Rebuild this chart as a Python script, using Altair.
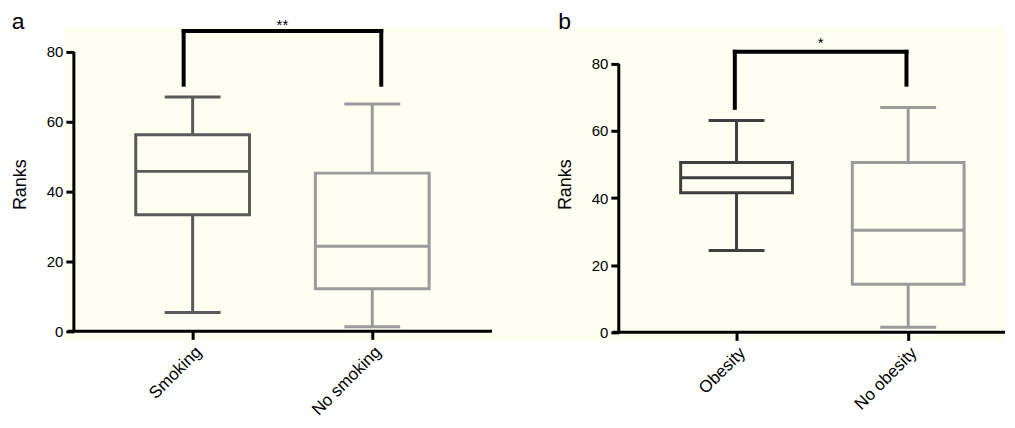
import altair as alt
import pandas as pd

# ---- data ----
cats_a = ["Smoking", "No smoking"]
min_a = [5.4, 1.3]
q1_a = [33.4, 12.2]
med_a = [45.8, 24.4]
q3_a = [56.3, 45.3]
max_a = [67.1, 65.1]
colors_a = ["#5a5a5a", "#9a9a9a"]
brk_x_a = [0.95, 2.05]
brk_top_a = 86.0
brk_low_a = [70.6, 70.6]
star_a = "**"
star_y_a = 88.9

cats_b = ["Obesity", "No obesity"]
min_b = [24.4, 1.5]
q1_b = [41.6, 14.3]
med_b = [46.1, 30.4]
q3_b = [50.6, 50.6]
max_b = [63.1, 67.0]
colors_b = ["#3f3f3f", "#9a9a9a"]
brk_x_b = [0.99, 1.99]
brk_top_b = 83.6
brk_low_b = [66.9, 73.8]
star_b = "*"
star_y_b = 87.4

ticks = [0, 20, 40, 60, 80]
BG = "#FEFEF1"
FONT = "Liberation Sans"
LETTER_X = {"a": -52.3, "b": 66.3}


def panel(letter, cats, mins, q1, med, q3, maxs, colors, brk_x, brk_top, brk_low,
          star, star_y, width, height, xdom, ydom, yoff, xoff, xline_start,
          box_half, cap_half, title_pad):
    df = pd.DataFrame({
        "pos": [1, 2], "cat": cats, "min": mins, "q1": q1, "med": med,
        "q3": q3, "max": maxs, "col": colors,
    })
    base = alt.Chart(df)
    label_expr = "['" + "','".join(cats) + "'][datum.value-1]"
    x = alt.X("pos:Q", scale=alt.Scale(domain=xdom, nice=False, zero=False),
              axis=alt.Axis(values=[1, 2], labelExpr=label_expr, labelAngle=-45,
                            offset=xoff, domain=False, tickSize=8, tickWidth=3,
                            tickColor="black", grid=False, title=None,
                            labelFontSize=17, labelColor="black", labelFont=FONT,
                            labelPadding=4))
    y = alt.Y("min:Q", scale=alt.Scale(domain=ydom, nice=False, zero=False),
              axis=alt.Axis(values=ticks, offset=yoff, domain=False, tickSize=8,
                            tickWidth=3, tickColor="black", grid=False,
                            title="Ranks", titleFontSize=18, titleFontWeight="normal",
                            titleFont=FONT, titleColor="black", titlePadding=title_pad,
                            labelFontSize=15, labelColor="black", labelFont=FONT,
                            labelPadding=3))
    color = alt.Color("col:N", scale=None)
    whisk = base.mark_rule(strokeWidth=3).encode(x=x, y=y, y2="max:Q", color=color)
    cap_lo = base.mark_rule(strokeWidth=3, xOffset=-cap_half, x2Offset=cap_half).encode(
        x="pos:Q", x2="pos:Q", y="min:Q", color=color)
    cap_hi = base.mark_rule(strokeWidth=3, xOffset=-cap_half, x2Offset=cap_half).encode(
        x="pos:Q", x2="pos:Q", y="max:Q", color=color)
    box = base.mark_rect(strokeWidth=3, fill=BG, xOffset=-box_half, x2Offset=box_half).encode(
        x="pos:Q", x2="pos:Q", y="q1:Q", y2="q3:Q", stroke=color)
    median = base.mark_rule(strokeWidth=3, xOffset=-box_half, x2Offset=box_half).encode(
        x="pos:Q", x2="pos:Q", y="med:Q", color=color)

    one = alt.Chart(pd.DataFrame({"v": [0]}))
    yline = one.mark_rule(strokeWidth=3, color="black").encode(
        x=alt.value(-yoff), y=alt.datum(ticks[0]), y2=alt.datum(ticks[-1]))
    xline = one.mark_rule(strokeWidth=3, color="black").encode(
        x=alt.value(xline_start), x2=alt.value(width), y=alt.datum(0))

    bdf = pd.DataFrame({"x1": [brk_x[0], brk_x[0], brk_x[1]],
                        "x2": [brk_x[1], brk_x[0], brk_x[1]],
                        "y1": [brk_top, brk_top, brk_top],
                        "y2": [brk_top, brk_low[0], brk_low[1]]})
    bracket = alt.Chart(bdf).mark_rule(strokeWidth=4, color="black", strokeCap="square").encode(
        x="x1:Q", x2="x2:Q", y="y1:Q", y2="y2:Q")
    sdf = pd.DataFrame({"x": [sum(brk_x) / 2], "y": [star_y], "t": [star]})
    stars = alt.Chart(sdf).mark_text(fontSize=15, font=FONT, baseline="middle", dy=4,
                                     color="black").encode(x="x:Q", y="y:Q", text="t:N")
    ldf = pd.DataFrame({"t": [letter]})
    letter_t = alt.Chart(ldf).mark_text(fontSize=23, font=FONT, align="left",
                                        baseline="alphabetic", color="black").encode(
        x=alt.value(LETTER_X[letter]), y=alt.value(2), text="t:N")

    return alt.layer(whisk, box, median, cap_lo, cap_hi, yline, xline, bracket,
                     stars, letter_t).properties(width=width, height=height)


pa = panel("a", cats_a, min_a, q1_a, med_a, q3_a, max_a, colors_a, brk_x_a,
           brk_top_a, brk_low_a, star_a, star_y_a, 429, 315,
           [0.2833, 2.6667], [-2.857, 87.14], -10, -10, 4, 57, 28, 17)
pb = panel("b", cats_b, min_b, q1_b, med_b, q3_b, max_b, colors_b, brk_x_b,
           brk_top_b, brk_low_b, star_b, star_y_b, 514, 315,
           [-0.4244, 2.564], [-2.68, 91.0], -127, -9, 121, 56, 28, 17)

chart = alt.hconcat(pa, pb, spacing=0, bounds="flush").properties(
    padding={"left": 3, "top": 2.6, "right": 0, "bottom": 0}
).configure_view(stroke=None, fill=BG)

chart.save("out.html", embed_options={"renderer": "svg", "actions": False})
